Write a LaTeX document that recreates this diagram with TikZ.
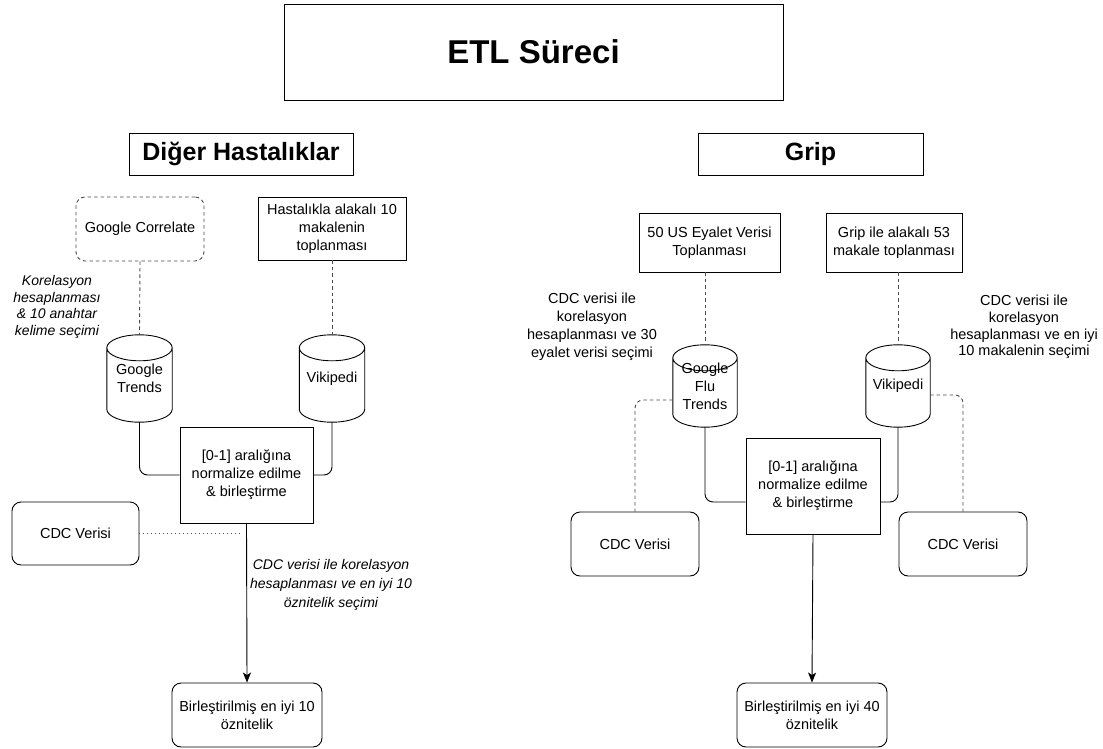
\documentclass[tikz,border=0pt]{standalone}
\usepackage{fontspec}
\setmainfont{Liberation Sans}
\usetikzlibrary{arrows.meta,calc}
\newcommand\drawcyl[2]{%
  \draw[ln] let \p1=(#1.north west),\p2=(#1.south east),\n1={(\x2-\x1)/2} in
    (\x1,\y1-#2) -- (\x1,\y2+#2)
    arc[start angle=180,end angle=360,x radius=\n1,y radius=#2]
    -- (\x2,\y1-#2)
    arc[start angle=0,end angle=180,x radius=\n1,y radius=#2]
    arc[start angle=180,end angle=360,x radius=\n1,y radius=#2];}
\begin{document}
\begin{tikzpicture}[x=1pt,y=-1pt,
  ln/.style={draw=black, line width=0.9pt},
  txt/.style={font=\fontsize{14.5}{18}\selectfont, align=center, inner sep=0pt},
  box/.style={txt, ln, inner sep=0pt},
  rbox/.style={box, rounded corners=9pt},
  cyl/.style={txt, minimum width=65pt},
  dsh/.style={draw=black!70, line width=0.9pt, dash pattern=on 3.5pt off 3pt},
  dot/.style={draw=black!70, line width=0.9pt, dash pattern=on 1pt off 3pt},
  conn/.style={ln, rounded corners=8pt},
  arr/.style={ln, -{Stealth[length=10pt,width=8pt,inset=2.5pt]}},
  lbl/.style={txt, font=\fontsize{14.5}{18}\itshape\selectfont},
]
\useasboundingbox (0,0) rectangle (1103,749);
\fill[white] (0,0) rectangle (1103,749);

% titles
\node[box, minimum width=499pt, minimum height=96pt, font=\fontsize{33}{38}\bfseries\selectfont] (etl) at (533.5,52) {ETL Süreci};
\node[box, minimum width=224pt, minimum height=42pt, font=\fontsize{25}{30}\bfseries\selectfont] (dh) at (241,154) {Diğer Hastalıklar};
\node[box, minimum width=225pt, minimum height=42pt, font=\fontsize{25}{30}\bfseries\selectfont] (gr) at (810.5,154) {Grip};

% ---------- left ----------
\node[rbox, dsh, minimum width=128pt, minimum height=64pt] (gc) at (140,229) {Google Correlate};
\node[box, minimum width=148pt, minimum height=63pt] (hast) at (332,228.5) {Hastalıkla alakalı 10\\makalenin\\toplanması};
\node[cyl, minimum height=87pt] (gt) at (139.5,378.5) {Google\\Trends};
\node[cyl, minimum height=87pt] (vk1) at (332,378.5) {Vikipedi};
\drawcyl{gt}{13pt}
\drawcyl{vk1}{13pt}
\node[box, minimum width=133pt, minimum height=96pt] (n1) at (246.5,475) {[0-1] aralığına\\normalize edilme\\\& birleştirme};
\node[rbox, minimum width=127pt, minimum height=63pt] (cdc1) at (75.5,533.5) {CDC Verisi};
\node[rbox, minimum width=150pt, minimum height=64pt] (b1) at (247,715) {Birleştirilmiş en iyi 10\\öznitelik};
\node[lbl, font=\fontsize{14}{16.7}\itshape\selectfont] (l1) at (57,307) {Korelasyon\\hesaplanması\\\& 10 anahtar\\kelime seçimi};
\node[lbl, font=\fontsize{14}{19}\itshape\selectfont] (l2) at (331,585) {CDC verisi ile korelasyon\\hesaplanması ve en iyi 10\\öznitelik seçimi};
\coordinate (d1) at (243,533.5);

\draw[dsh] (gc.south) -- (gt.north);
\draw[dsh] (hast.south) -- (vk1.north);
\draw[conn] (gt.south) |- (n1.west);
\draw[conn] (vk1.south) |- (n1.east);
\draw[dot] (cdc1.east) -- (d1);
\draw[arr] (n1.south) -- (b1.north);

% ---------- right ----------
\node[box, minimum width=141pt, minimum height=59pt] (us) at (709.5,242.5) {50 US Eyalet Verisi\\Toplanması};
\node[box, minimum width=136pt, minimum height=59pt] (g53) at (894,242.5) {Grip ile alakalı 53\\makale toplanması};
\node[cyl, minimum width=64pt, minimum height=82pt] (gft) at (705,386) {Google\\Flu\\Trends};
\node[cyl, minimum width=64pt, minimum height=82pt] (vk2) at (898,386) {Vikipedi};
\drawcyl{gft}{13pt}
\drawcyl{vk2}{13pt}
\node[box, minimum width=134pt, minimum height=96pt] (n2) at (813,486) {[0-1] aralığına\\normalize edilme\\\& birleştirme};
\node[rbox, minimum width=128pt, minimum height=64pt] (cdc2) at (635,544) {CDC Verisi};
\node[rbox, minimum width=128pt, minimum height=64pt] (cdc3) at (963,544) {CDC Verisi};
\node[rbox, minimum width=150pt, minimum height=64pt] (b2) at (812,715) {Birleştirilmiş en iyi 40\\öznitelik};
\node[txt, font=\fontsize{14.5}{18}\selectfont] (l3) at (592,327) {CDC verisi ile\\korelasyon\\hesaplanması ve 30\\eyalet verisi seçimi};
\node[txt, font=\fontsize{14.5}{16.8}\selectfont] (l4) at (1024,327) {CDC verisi ile\\korelasyon\\hesaplanması ve en iyi\\10 makalenin seçimi};

\draw[dsh] (gft.north |- us.south) -- (gft.north);
\draw[dsh] (vk2.north |- g53.south) -- (vk2.north);
\draw[conn] (gft.south) |- ([yshift=-16pt]n2.west);
\draw[conn] (vk2.south) |- ([yshift=-16pt]n2.east);
\draw[dsh, rounded corners=8pt] ([yshift=-14pt]gft.west) -| (cdc2.north);
\draw[dsh, rounded corners=8pt] ([yshift=-9pt]vk2.east) -| (cdc3.north);
\draw[arr] (n2.south) -- (b2.north);
\end{tikzpicture}
\end{document}
